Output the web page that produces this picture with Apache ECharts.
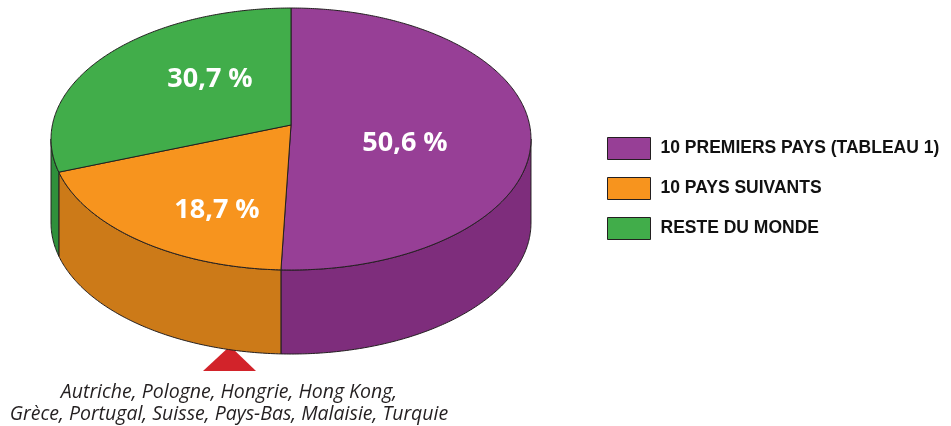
<!DOCTYPE html>
<html><head><meta charset="utf-8">
<script src="https://cdn.jsdelivr.net/npm/echarts@6/dist/echarts.min.js"></script>
<style>html,body{margin:0;padding:0;background:#fff}#c{width:951px;height:426px}</style>
</head><body><div id="c"></div>
<script>
const categories = ['10 PREMIERS PAYS (TABLEAU 1)', '10 PAYS SUIVANTS', 'RESTE DU MONDE'];
const values = [50.6, 18.7, 30.7];
const valueLabels = ['50,6 %', '18,7 %', '30,7 %'];
const topColors = ['#973F96', '#F7941E', '#41AD4A'];
const sideColors = ['#7E2D7C', '#CC7A18', '#2F903B'];
const footnote = ['Autriche, Pologne, Hongrie, Hong Kong,', 'Grèce, Portugal, Suisse, Pays-Bas, Malaisie, Turquie'];

// layout of the perspective pie
const CX = 291, CY = 125, A = 238.6, B = 129.5, K = 0.107, DEPTH = 84;
const LABEL_POS = [[405, 143], [217, 210], [210, 79]];
const STROKE = '#231F20';

const total = values.reduce((a, b) => a + b, 0);
const starts = []; let acc = 0; values.forEach(v => { starts.push(acc); acc += v; });
function proj(r, phi) {
  const u = r * Math.sin(phi), v = r * Math.cos(phi);
  const d = 1 + K * v;
  return [CX + A * u / d, CY - B * v / d];
}
const PHI_L = Math.acos(-K);
const PHI_R = 2 * Math.PI - PHI_L;
function arcPts(a0, a1) {
  const n = Math.max(2, Math.ceil(Math.abs(a1 - a0) / 0.01));
  const pts = [];
  for (let i = 0; i <= n; i++) pts.push(proj(1, a0 + (a1 - a0) * i / n));
  return pts;
}

function makeRender(i) {
  return function (params, api) {
    const v = api.value(0);
    const a0 = starts[i] / total * 2 * Math.PI;
    const a1 = a0 + v / total * 2 * Math.PI;
    const children = [];
    const w0 = Math.max(a0, PHI_L), w1 = Math.min(a1, PHI_R);
    if (w1 > w0) {
      const topEdge = arcPts(w0, w1);
      const bottom = topEdge.slice().reverse().map(p => [p[0], p[1] + DEPTH]);
      children.push({
        type: 'polygon',
        shape: { points: topEdge.concat(bottom) },
        style: { fill: sideColors[i], stroke: STROKE, lineWidth: 1, lineJoin: 'round' }
      });
    }
    const top = [proj(0, 0)].concat(arcPts(a0, a1));
    children.push({
      type: 'polygon',
      shape: { points: top },
      style: { fill: topColors[i], stroke: STROKE, lineWidth: 1, lineJoin: 'round' }
    });
    children.push({
      type: 'text',
      x: LABEL_POS[i][0], y: LABEL_POS[i][1],
      style: {
        text: valueLabels[i], fill: '#fff', align: 'center', verticalAlign: 'middle',
        font: 'bold 27px "Open Sans", sans-serif'
      }
    });
    return { type: 'group', children: children };
  };
}

const chart = echarts.init(document.getElementById('c'), null, { renderer: 'canvas' });
chart.setOption({
  animation: false,
  backgroundColor: '#fff',
  legend: {
    orient: 'vertical', left: 607, top: 137, padding: 0,
    icon: 'rect', itemWidth: 43, itemHeight: 22, itemGap: 17,
    itemStyle: { borderColor: STROKE, borderWidth: 1 },
    textStyle: { fontFamily: '"Liberation Sans", Arial, sans-serif', fontWeight: 'bold', fontSize: 17.5, color: '#111', padding: [0, 0, 0, 5] },
    data: categories
  },
  graphic: [
    {
      type: 'polygon', shape: { points: [[230, 346], [203, 371], [256, 371]] },
      style: { fill: '#D2232A' }
    },
    {
      type: 'text', x: 229, y: 403,
      style: {
        text: footnote.join('\n'), fill: '#231F20', align: 'center', verticalAlign: 'middle',
        font: 'italic 19.5px "Open Sans", sans-serif', lineHeight: 22
      }
    }
  ],
  series: categories.map((name, i) => ({
    type: 'custom', name: name, coordinateSystem: 'none',
    itemStyle: { color: topColors[i] },
    renderItem: makeRender(i),
    data: [[values[i]]]
  }))
});
</script></body></html>
